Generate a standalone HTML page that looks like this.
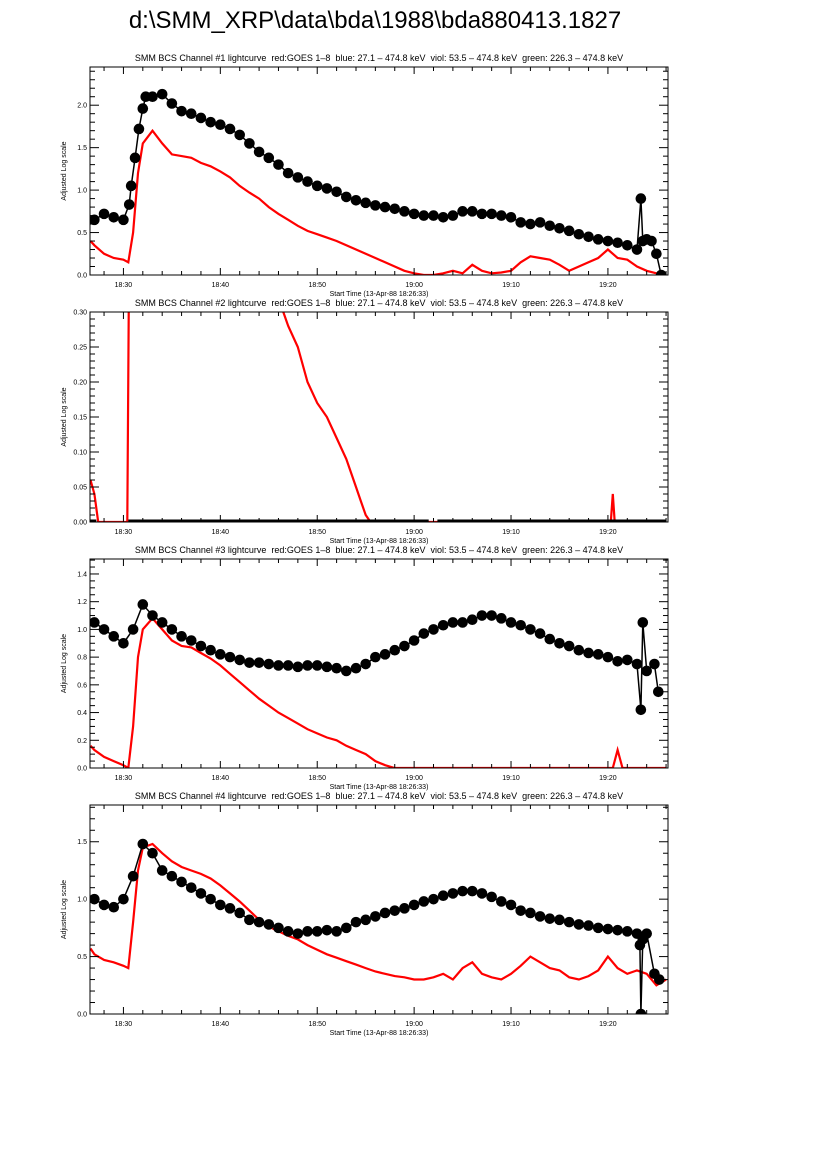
<!DOCTYPE html>
<html><head><meta charset="utf-8"><style>
body{margin:0;background:#fff;}
svg{display:block;font-family:"Liberation Sans",sans-serif;}
</style></head><body>
<svg id="chart" width="826" height="1169" viewBox="0 0 826 1169" xmlns="http://www.w3.org/2000/svg">
<rect width="826" height="1169" fill="#fff"/>
<text x="375" y="28" font-size="24" text-anchor="middle">d:\SMM_XRP\data\bda\1988\bda880413.1827</text>
</svg>
<script>
// time in minutes after 18:00
const xTickLabels = ["18:30","18:40","18:50","19:00","19:10","19:20"];
const xTickMinutes = [30,40,50,60,70,80];

const p1BlackT = [27,28,29,30,30.6,30.8,31.2,31.6,32,32.3,33,34,35,36,37,38,39,40,41,42,43,44,45,46,47,48,49,50,51,52,53,54,55,56,57,58,59,60,61,62,63,64,65,66,67,68,69,70,71,72,73,74,75,76,77,78,79,80,81,82,83,83.4,83.6,84,84.5,85,85.5];
const p1BlackV = [0.65,0.72,0.68,0.65,0.83,1.05,1.38,1.72,1.96,2.1,2.1,2.13,2.02,1.93,1.9,1.85,1.8,1.77,1.72,1.65,1.55,1.45,1.38,1.3,1.2,1.15,1.1,1.05,1.02,0.98,0.92,0.88,0.85,0.82,0.8,0.78,0.75,0.72,0.7,0.7,0.68,0.7,0.75,0.75,0.72,0.72,0.7,0.68,0.62,0.6,0.62,0.58,0.55,0.52,0.48,0.45,0.42,0.4,0.38,0.35,0.3,0.9,0.4,0.42,0.4,0.25,0];
const p1RedT = [26.6,27,28,29,30,30.5,31,31.5,32,33,34,35,36,37,38,39,40,41,42,43,44,45,46,47,48,49,50,51,52,53,54,55,56,57,58,59,60,61,62,63,64,65,66,67,68,69,70,71,72,73,74,75,76,77,78,79,80,81,82,83,84,85,86];
const p1RedV = [0.4,0.35,0.25,0.2,0.18,0.15,0.5,1.2,1.55,1.7,1.55,1.42,1.4,1.38,1.32,1.28,1.22,1.15,1.05,0.97,0.9,0.8,0.72,0.65,0.58,0.52,0.48,0.44,0.4,0.35,0.3,0.25,0.2,0.15,0.1,0.05,0.02,0,0,0.02,0.05,0.02,0.12,0.05,0.02,0.03,0.05,0.15,0.22,0.2,0.18,0.12,0.05,0.1,0.15,0.2,0.3,0.2,0.18,0.1,0.05,0.02,0];

const p2BlackT = [26.6,27.2,null,30.5,61.5,null,62.4,86];
const p2BlackV = [0,0,null,0,0,null,0,0];
const p2RedT = [26.6,27,27.4,27.6,30.4,30.6,30.8,46,46.5,47,48,49,50,51,52,53,54,54.5,55,55.5,80.3,80.5,80.7,86];
const p2RedV = [0.06,0.04,0,0,0,0.4,1,1,0.3,0.28,0.25,0.2,0.17,0.15,0.12,0.09,0.05,0.03,0.01,0,0,0.04,0,0];

const p3BlackT = [27,28,29,30,31,32,33,34,35,36,37,38,39,40,41,42,43,44,45,46,47,48,49,50,51,52,53,54,55,56,57,58,59,60,61,62,63,64,65,66,67,68,69,70,71,72,73,74,75,76,77,78,79,80,81,82,83,83.4,83.6,84,84.8,85.2];
const p3BlackV = [1.05,1.0,0.95,0.9,1.0,1.18,1.1,1.05,1.0,0.95,0.92,0.88,0.85,0.82,0.8,0.78,0.76,0.76,0.75,0.74,0.74,0.73,0.74,0.74,0.73,0.72,0.7,0.72,0.75,0.8,0.82,0.85,0.88,0.92,0.97,1.0,1.03,1.05,1.05,1.07,1.1,1.1,1.08,1.05,1.03,1.0,0.97,0.93,0.9,0.88,0.85,0.83,0.82,0.8,0.77,0.78,0.75,0.42,1.05,0.7,0.75,0.55];
const p3RedT = [26.6,27,28,29,30,30.5,31,31.5,32,33,34,35,36,37,38,39,40,41,42,43,44,45,46,47,48,49,50,51,52,53,54,55,56,57,58,80.5,81,81.5,86];
const p3RedV = [0.16,0.13,0.08,0.05,0.02,0,0.3,0.8,1.0,1.08,1.0,0.92,0.88,0.87,0.83,0.79,0.74,0.68,0.62,0.56,0.5,0.45,0.4,0.36,0.32,0.28,0.25,0.22,0.2,0.16,0.13,0.1,0.05,0.02,0,0,0.13,0,0];

const p4BlackT = [27,28,29,30,31,32,33,34,35,36,37,38,39,40,41,42,43,44,45,46,47,48,49,50,51,52,53,54,55,56,57,58,59,60,61,62,63,64,65,66,67,68,69,70,71,72,73,74,75,76,77,78,79,80,81,82,83,83.3,83.4,83.6,84,84.8,85.3];
const p4BlackV = [1.0,0.95,0.93,1.0,1.2,1.48,1.4,1.25,1.2,1.15,1.1,1.05,1.0,0.95,0.92,0.88,0.82,0.8,0.78,0.75,0.72,0.7,0.72,0.72,0.73,0.72,0.75,0.8,0.82,0.85,0.88,0.9,0.92,0.95,0.98,1.0,1.03,1.05,1.07,1.07,1.05,1.02,0.98,0.95,0.9,0.88,0.85,0.83,0.82,0.8,0.78,0.77,0.75,0.74,0.73,0.72,0.7,0.6,0,0.65,0.7,0.35,0.3];
const p4RedT = [26.6,27,28,29,30,30.5,31,31.5,32,33,34,35,36,37,38,39,40,41,42,43,44,45,46,47,48,49,50,51,52,53,54,55,56,57,58,59,60,61,62,63,64,65,66,67,68,69,70,71,72,73,74,75,76,77,78,79,80,81,82,83,84,85,86];
const p4RedV = [0.57,0.52,0.47,0.45,0.42,0.4,0.8,1.25,1.45,1.48,1.4,1.33,1.28,1.25,1.22,1.18,1.12,1.05,0.98,0.9,0.82,0.76,0.72,0.68,0.65,0.6,0.56,0.52,0.49,0.46,0.43,0.4,0.37,0.35,0.33,0.32,0.3,0.3,0.32,0.35,0.3,0.4,0.45,0.35,0.32,0.3,0.35,0.42,0.5,0.45,0.4,0.38,0.32,0.3,0.33,0.38,0.5,0.4,0.35,0.38,0.35,0.25,0.3];

const svg = document.getElementById('chart');
const NS = 'http://www.w3.org/2000/svg';
const X0 = 90, X1 = 668, TMIN = 26.55, TMAX = 86.2;
function xScale(t){ return X0 + (t - TMIN) / (TMAX - TMIN) * (X1 - X0); }
function mk(tag, attrs, parent){
  const e = document.createElementNS(NS, tag);
  for (const k in attrs) e.setAttribute(k, attrs[k]);
  (parent || svg).appendChild(e);
  return e;
}
function pathD(ts, vs, y){
  let d = '', pen = false;
  ts.forEach((tt,i) => {
    if (tt === null) { pen = false; return; }
    d += (pen ? 'L' : 'M') + xScale(tt).toFixed(1) + ',' + y(vs[i]).toFixed(1);
    pen = true;
  });
  return d;
}
const titleTxt = "  red:GOES 1\u20138  blue: 27.1 \u2013 474.8 keV  viol: 53.5 \u2013 474.8 keV  green: 226.3 \u2013 474.8 keV";
const panels = [
  {n:1, top:67, bot:275, ymax:2.45, major:0.5, minor:0.1, dec:1, bt:p1BlackT, bv:p1BlackV, rt:p1RedT, rv:p1RedV, dots:true},
  {n:2, top:312, bot:522, ymax:0.30, major:0.05, minor:0.01, dec:2, bt:p2BlackT, bv:p2BlackV, rt:p2RedT, rv:p2RedV, dots:false},
  {n:3, top:559, bot:768, ymax:1.508, major:0.2, minor:0.05, dec:1, bt:p3BlackT, bv:p3BlackV, rt:p3RedT, rv:p3RedV, dots:true},
  {n:4, top:805, bot:1014, ymax:1.82, major:0.5, minor:0.1, dec:1, bt:p4BlackT, bv:p4BlackV, rt:p4RedT, rv:p4RedV, dots:true}
];
panels.forEach(p => {
  const g = mk('g', {});
  
  
  const y = v => p.bot - v / p.ymax * (p.bot - p.top);
  const t = mk('text', {x:(X0+X1)/2, y:p.top-6, 'font-size':9, 'text-anchor':'middle', 'xml:space':'preserve', style:'white-space:pre'}, g);
  t.textContent = 'SMM BCS Channel #' + p.n + ' lightcurve' + titleTxt;
  
  
  const cid = 'clip' + p.n;
  const cp = mk('clipPath', {id:cid}, g);
  mk('rect', {x:X0, y:p.top, width:X1-X0, height:p.bot-p.top}, cp);
  const rl = mk('path', {d:pathD(p.rt, p.rv, y), fill:'none', stroke:'#ff0000', 'stroke-width':2.2, 'clip-path':'url(#'+cid+')'}, g);
  
  
  const bl = mk('path', {d:pathD(p.bt, p.bv, y), fill:'none', stroke:'#000', 'stroke-width':p.dots?1.5:5, 'clip-path':'url(#'+cid+')'}, g);
  
  
  if (p.dots) {
    p.bt.forEach((tt,i) => {
      const c = mk('circle', {cx:xScale(tt), cy:y(p.bv[i]), r:5.3, fill:'#000', 'clip-path':'url(#'+cid+')'}, g);
      
      
    });
  }
  const box = mk('rect', {x:X0, y:p.top, width:X1-X0, height:p.bot-p.top, fill:'none', stroke:'#000', 'stroke-width':1}, g);
  
  
  for (let m = 28; m <= 86; m += 2) {
    const xx = xScale(m), len = (m % 10 === 0) ? 7 : 4;
    mk('line', {x1:xx, x2:xx, y1:p.bot, y2:p.bot-len, stroke:'#000'}, g);
    mk('line', {x1:xx, x2:xx, y1:p.top, y2:p.top+len, stroke:'#000'}, g);
  }
  xTickLabels.forEach((lab,i) => {
    const tx = mk('text', {x:xScale(xTickMinutes[i]), y:p.bot+12, 'font-size':7, 'text-anchor':'middle'}, g);
    tx.textContent = lab;
    
    
  });
  const xl = mk('text', {x:(X0+X1)/2, y:p.bot+21, 'font-size':7, 'text-anchor':'middle'}, g);
  xl.textContent = 'Start Time (13-Apr-88 18:26:33)';
  
  
  const nMin = Math.floor(p.ymax / p.minor + 1e-6);
  for (let k = 0; k <= nMin; k++) {
    const v = k * p.minor, yy = y(v);
    const isMaj = Math.abs(v / p.major - Math.round(v / p.major)) < 1e-6;
    const len = isMaj ? 9 : 5;
    mk('line', {x1:X0, x2:X0+len, y1:yy, y2:yy, stroke:'#000'}, g);
    mk('line', {x1:X1, x2:X1-len, y1:yy, y2:yy, stroke:'#000'}, g);
    if (isMaj) {
      const ty = mk('text', {x:X0-3, y:yy+2.5, 'font-size':7, 'text-anchor':'end'}, g);
      ty.textContent = v.toFixed(p.dec);
      
      
    }
  }
  const yt = mk('text', {x:0, y:0, 'font-size':7, 'text-anchor':'middle', transform:'translate(66,'+((p.top+p.bot)/2)+') rotate(-90)'}, g);
  yt.textContent = 'Adjusted Log scale';
  
  
});
</script>
</body></html>
